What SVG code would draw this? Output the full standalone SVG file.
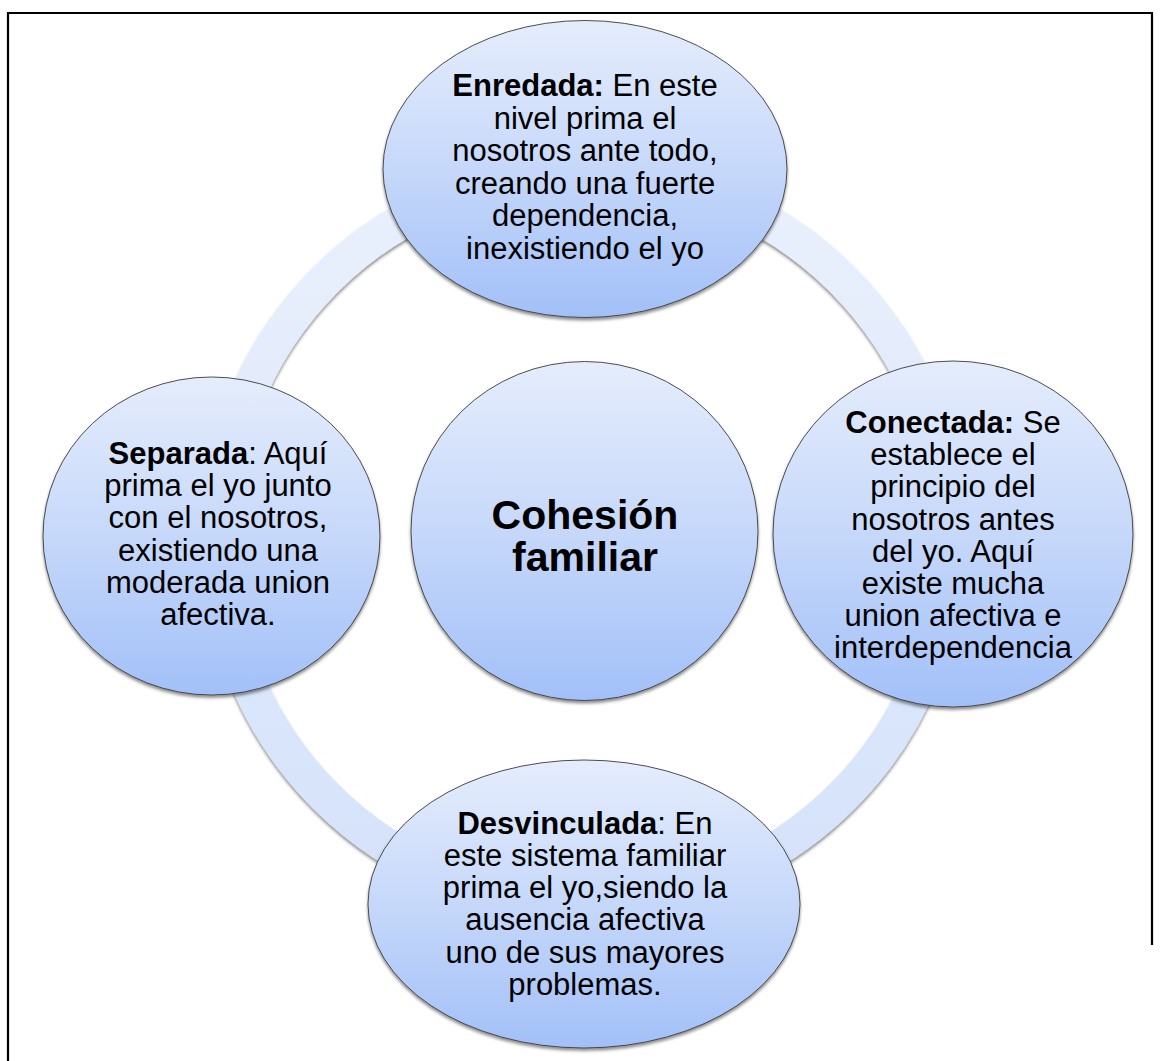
<svg xmlns="http://www.w3.org/2000/svg" width="1160" height="1061" viewBox="0 0 1160 1061">
<style>
.node{fill:url(#nodeGrad);stroke:#3c3c3c;stroke-width:0.9;filter:url(#shadow)}
.t{font-family:"Liberation Sans",Arial,sans-serif;font-size:31px;fill:#000;text-anchor:middle}
.b{font-weight:bold}
.c{font-family:"Liberation Sans",Arial,sans-serif;font-size:41px;font-weight:bold;fill:#000;text-anchor:middle}
.frame{stroke:#000;stroke-width:2.2;fill:none}
</style>
<defs>
<linearGradient id="nodeGrad" x1="0" y1="0" x2="0" y2="1">
<stop offset="0" stop-color="#e5edfc"/>
<stop offset="0.5" stop-color="#c6d8fa"/>
<stop offset="1" stop-color="#a2c0f8"/>
</linearGradient>
<linearGradient id="ringGrad" gradientUnits="userSpaceOnUse" x1="0" y1="172" x2="0" y2="904">
<stop offset="0" stop-color="#eaf0fc"/>
<stop offset="1" stop-color="#d4e2fa"/>
</linearGradient>
<filter id="shadow" x="-10%" y="-10%" width="120%" height="125%">
<feDropShadow dx="0" dy="2.5" stdDeviation="1.8" flood-color="#000" flood-opacity="0.45"/>
</filter>
</defs>
<rect width="1160" height="1061" fill="#fff"/>
<path class="frame" d="M8 1061 V13 H1152 V945"/>
<g id="connectors">
<circle cx="584" cy="538" r="365.5" fill="none" stroke="url(#ringGrad)" stroke-width="35" filter="url(#shadow)"/>
</g>
<g id="node-center">
<ellipse class="node" cx="584.5" cy="531" rx="173.5" ry="169.5"/>
<text class="c" x="585" y="529">Cohesión</text>
<text class="c" x="585" y="571">familiar</text>
</g>
<g id="node-enredada">
<ellipse class="node" cx="585" cy="169" rx="202" ry="148.5"/>
<text class="t" x="585" y="96"><tspan class="b">Enredada:</tspan> En este</text>
<text class="t" x="585" y="128.5">nivel prima el</text>
<text class="t" x="585" y="161">nosotros ante todo,</text>
<text class="t" x="585" y="193.5">creando una fuerte</text>
<text class="t" x="585" y="226">dependencia,</text>
<text class="t" x="585" y="258.5">inexistiendo el yo</text>
</g>
<g id="node-conectada">
<ellipse class="node" cx="953" cy="534" rx="180" ry="173"/>
<text class="t" x="953" y="433"><tspan class="b">Conectada:</tspan> Se</text>
<text class="t" x="953" y="465">establece el</text>
<text class="t" x="953" y="497">principio del</text>
<text class="t" x="953" y="529.5">nosotros antes</text>
<text class="t" x="953" y="562">del yo. Aquí</text>
<text class="t" x="953" y="594">existe mucha</text>
<text class="t" x="953" y="626">union afectiva e</text>
<text class="t" x="953" y="658">interdependencia</text>
</g>
<g id="node-desvinculada">
<ellipse class="node" cx="584" cy="904" rx="216" ry="144"/>
<text class="t" x="585" y="834"><tspan class="b">Desvinculada</tspan>: En</text>
<text class="t" x="585" y="866">este sistema familiar</text>
<text class="t" x="585" y="898">prima el yo,siendo la</text>
<text class="t" x="585" y="930">ausencia afectiva</text>
<text class="t" x="585" y="963">uno de sus mayores</text>
<text class="t" x="585" y="995">problemas.</text>
</g>
<g id="node-separada">
<ellipse class="node" cx="211.5" cy="536" rx="168.5" ry="159"/>
<text class="t" x="218" y="464"><tspan class="b">Separada</tspan>: Aquí</text>
<text class="t" x="218" y="496">prima el yo junto</text>
<text class="t" x="218" y="528">con el nosotros,</text>
<text class="t" x="218" y="560.5">existiendo una</text>
<text class="t" x="218" y="593">moderada union</text>
<text class="t" x="218" y="625">afectiva.</text>
</g>
</svg>
